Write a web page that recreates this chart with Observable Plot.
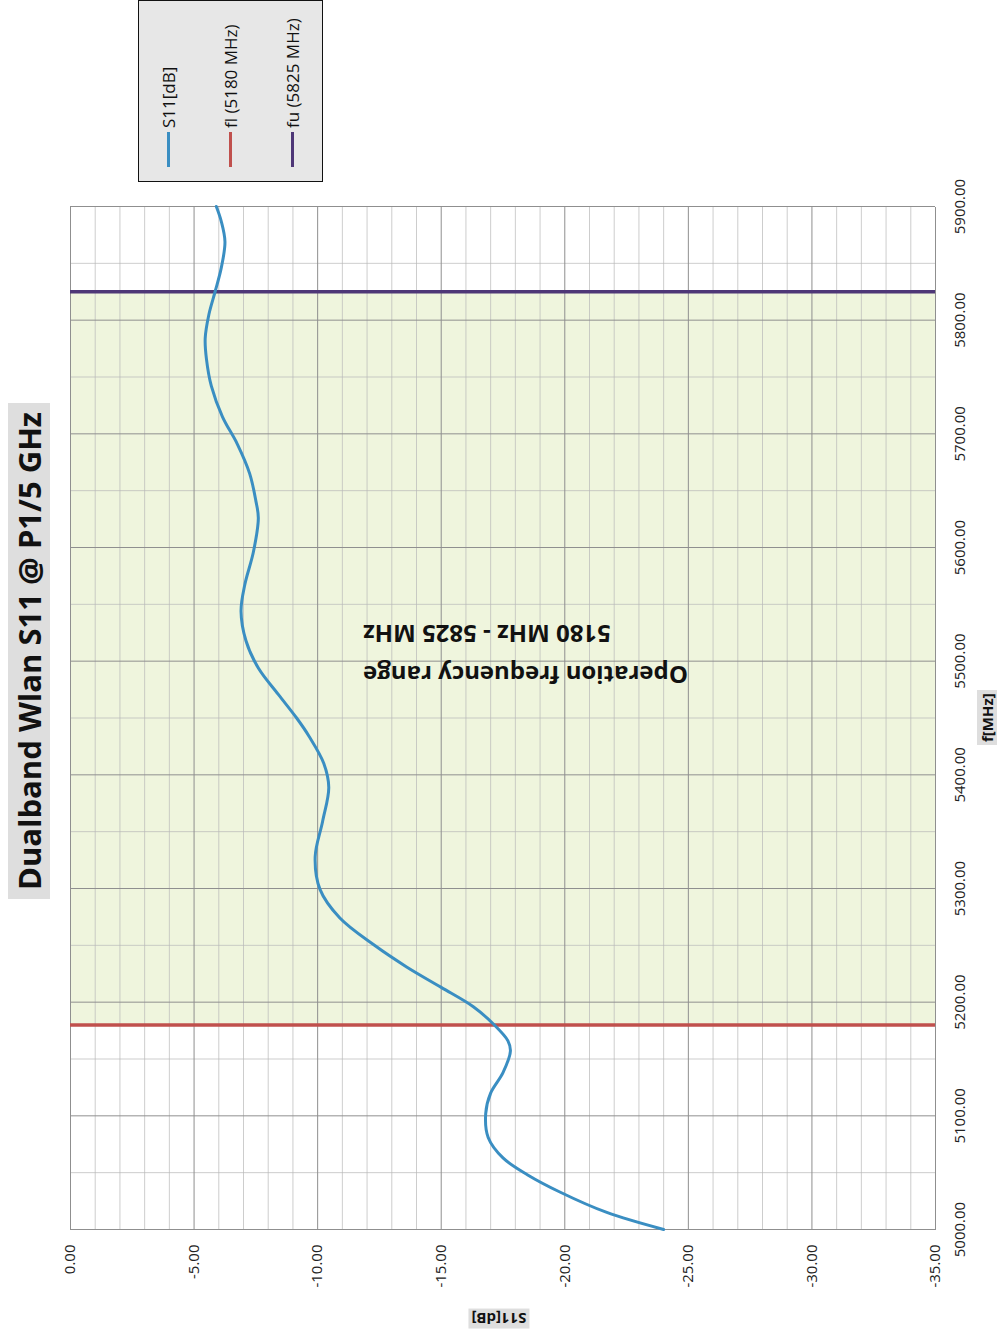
<!DOCTYPE html>
<html>
<head>
<meta charset="utf-8">
<script src="https://cdn.jsdelivr.net/npm/d3@7"></script>
<script src="https://cdn.jsdelivr.net/npm/@observablehq/plot@0.6"></script>
<style>
  html, body { margin: 0; padding: 0; background: #fff; }
  #page { position: relative; width: 1002px; height: 1335px; overflow: hidden; background: #fff; }
  #rot { position: absolute; left: 0; top: 0; width: 1335px; height: 1002px;
         transform-origin: 0 0; transform: translate(0px, 1335px) rotate(-90deg);
         font-family: "Open Sans", sans-serif; }
  #chart { position: absolute; left: 0; top: 0; }
  .title { position: absolute; left: 436px; top: 8px; width: 496px; height: 42px; line-height: 42px;
           text-align: center; background: #dedede; font-weight: 700; font-size: 31px; color: #111; white-space: nowrap; }
  .axt { position: absolute; background: #dedede; font-weight: 700; font-size: 15px; color: #111;
         padding: 0 3px; line-height: 20px; white-space: nowrap; }
  #legend { position: absolute; left: 1153px; top: 138px; width: 182px; height: 185px; box-sizing: border-box;
            border: 1.5px solid #111; background: #e7e7e7; }
  .li { position: absolute; left: 14px; height: 20px; display: flex; align-items: center; font-size: 17px; color: #111; white-space: nowrap; }
  .li .sw { width: 35px; height: 3px; margin-right: 4px; }
</style>
</head>
<body>
<div id="page">
  <div id="rot">
    <div id="chart"></div>
    <div class="title" id="title"></div>
    <div class="axt" id="xtitle"></div>
    <div class="axt" id="ytitle"></div>
    <div id="legend"></div>
  </div>
</div>
<script>
// ---- data ----
const chartTitle = "Dualband Wlan S11 @ P1/5 GHz";
const xTitle = "f[MHz]";
const yTitle = "S11[dB]";
const annotation = "Operation frequency range\n5180 MHz - 5825 MHz";

const freq = [5000, 5015, 5033, 5048, 5063, 5081, 5102, 5120, 5138, 5157, 5166, 5181, 5196, 5213, 5231,
              5250, 5274, 5299, 5328, 5359, 5389, 5410, 5434, 5450, 5471, 5494, 5518, 5544, 5567, 5596,
              5626, 5641, 5665, 5691, 5715, 5742, 5766, 5784, 5805, 5825, 5846, 5869, 5887, 5900];
const s11 = [-24.0, -21.7, -19.8, -18.5, -17.5, -16.9, -16.8, -17.0, -17.5, -17.8, -17.7, -17.1, -16.3, -15.0, -13.6,
             -12.3, -10.9, -10.1, -9.9, -10.2, -10.45, -10.25, -9.65, -9.15, -8.4, -7.6, -7.1, -6.9, -7.05, -7.4,
             -7.6, -7.5, -7.25, -6.75, -6.15, -5.7, -5.5, -5.45, -5.6, -5.85, -6.1, -6.25, -6.1, -5.9];

const freqTicks = [5000, 5100, 5200, 5300, 5400, 5500, 5600, 5700, 5800, 5900];
const dbTicks = [0, -5, -10, -15, -20, -25, -30, -35];
const fl = 5180;
const fu = 5825;
const seriesNames = ["S11[dB]", "fl (5180 MHz)", "fu (5825 MHz)"];
const seriesColors = ["#3a8ec2", "#c0504d", "#4e3777"];

// ---- derived ----
const data = freq.map((f, i) => ({f, db: s11[i]}));
const xDomain = [d3.min(freqTicks), d3.max(freqTicks)];
const yDomain = [d3.min(dbTicks), d3.max(dbTicks)];
const minorF = d3.range(xDomain[0] + 50, xDomain[1], 100);
const minorDb = d3.range(yDomain[0], yDomain[1] + 0.5, 1).filter(v => v % 5 !== 0);

const chart = Plot.plot({
  width: 1335,
  height: 1002,
  marginLeft: 105,
  marginRight: 207,
  marginTop: 70,
  marginBottom: 67,
  x: {domain: xDomain},
  y: {domain: yDomain},
  style: {fontFamily: "Open Sans", fontSize: "15px", color: "#222", background: "transparent", overflow: "visible"},
  marks: [
    Plot.rect([{a: fl, b: fu}], {x1: "a", x2: "b", y1: () => yDomain[0], y2: () => yDomain[1], fill: "#eff5dd"}),
    Plot.ruleX(minorF, {stroke: "#b8b8b8", strokeWidth: 1, strokeOpacity: 0.7}),
    Plot.ruleY(minorDb, {stroke: "#b8b8b8", strokeWidth: 1, strokeOpacity: 0.7}),
    Plot.ruleX(freqTicks, {stroke: "#8f8f8f", strokeWidth: 1}),
    Plot.ruleY(dbTicks, {stroke: "#8f8f8f", strokeWidth: 1}),
    Plot.axisX(freqTicks, {tickFormat: d => d.toFixed(2), tickSize: 0, tickPadding: 19, fontSize: 15, label: null}),
    Plot.axisY(dbTicks, {tickFormat: d => d.toFixed(2), tickSize: 0, tickPadding: 15, fontSize: 15, label: null}),
    Plot.ruleX([fl], {stroke: seriesColors[1], strokeWidth: 3.5}),
    Plot.ruleX([fu], {stroke: seriesColors[2], strokeWidth: 3.5}),
    Plot.line(data, {x: "f", y: "db", stroke: seriesColors[0], strokeWidth: 3, curve: "catmull-rom"}),
    Plot.text([annotation], {x: () => (fl + fu) / 2, frameAnchor: "middle", text: d => d, rotate: -90,
      textAnchor: "end", dy: -140, fontSize: 24, fontWeight: 700, lineHeight: 1.7, fill: "#111"})
  ]
});
document.getElementById("chart").appendChild(chart);

document.getElementById("title").textContent = chartTitle;
const xt = document.getElementById("xtitle");
xt.textContent = xTitle;
xt.style.left = "590px"; xt.style.top = "977px";
const yt = document.getElementById("ytitle");
yt.textContent = yTitle;
yt.style.left = "-14px"; yt.style.top = "489px"; yt.style.transform = "rotate(-90deg)";

const legend = document.getElementById("legend");
seriesNames.forEach((name, i) => {
  const row = document.createElement("div");
  row.className = "li";
  row.style.top = (19 + i * 62) + "px";
  const sw = document.createElement("span");
  sw.className = "sw";
  sw.style.background = seriesColors[i];
  const tx = document.createElement("span");
  tx.textContent = name;
  row.appendChild(sw); row.appendChild(tx);
  legend.appendChild(row);
});
</script>
</body>
</html>
